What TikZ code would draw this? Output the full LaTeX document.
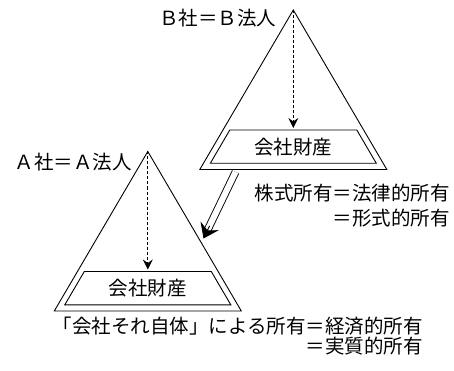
\documentclass[tikz,border=0pt]{standalone}
\usepackage{fontspec}
\newfontfamily\jp{Noto Sans CJK JP}
\usetikzlibrary{arrows.meta,calc}
\begin{document}
\begin{tikzpicture}[x=1pt,y=-1pt,
  lbl/.style={font=\jp\fontsize{19.5}{23}\selectfont, inner sep=0pt},
  tri/.style={line width=0.9pt, line join=miter},
  dasharrow/.style={line width=0.9pt, dash pattern=on 3pt off 2pt, -{Stealth[length=10pt,width=10pt,inset=3.5pt]}},
  dblline/.style={line width=0.9pt, double distance=6pt}]
\useasboundingbox (0,0) rectangle (454,371);
% apexes
\coordinate (Bt) at (293.3,10);
\coordinate (At) at (147.8,151.5);
% triangles and inner trapezoids
\foreach \p in {Bt,At}{
  \draw[tri] (\p) -- ++(-93.5,159.5) -- ++(187,0) -- cycle;
  \draw[tri] ($(\p)+(-63.5,120)$) -- ($(\p)+(63.5,120)$) -- ($(\p)+(83,153.3)$) -- ($(\p)+(-83,153.3)$) -- cycle;
}
\coordinate (Bd) at ($(Bt)+(0,118)$);
\coordinate (Ad) at ($(At)+(0,118)$);
\draw[dasharrow] (Bt) -- (Bd);
\draw[dasharrow] (At) -- (Ad);
\node[lbl] (Bp) at ($(Bt)+(0,137)$) {会社財産};
\node[lbl] (Ap) at ($(At)+(0,137)$) {会社財産};
% labels
\node[lbl, anchor=east] (Bn) at (276.5,18.5) {Ｂ社＝Ｂ法人};
\node[lbl, anchor=east] (An) at (132,162) {Ａ社＝Ａ法人};
% double arrow
\coordinate (ds) at (235.5,172);
\coordinate (dt) at (203.5,238.5);
\draw[dblline, shorten >=10pt] (ds) -- (dt);
\draw[line width=0.9pt, -{Stealth[length=14pt,width=20pt,inset=5pt]}] ($(dt)!14pt!(ds)$) -- (dt);
% texts
\node[lbl, anchor=east] (s1) at (450,193.5) {株式所有＝法律的所有};
\node[lbl, anchor=east] (s2) at (450,218.5) {＝形式的所有};
\node[lbl, anchor=east] (e1) at (423,326) {「会社それ自体」による所有＝経済的所有};
\node[lbl, anchor=east] (e2) at (423,346.5) {＝実質的所有};
\end{tikzpicture}
\end{document}
